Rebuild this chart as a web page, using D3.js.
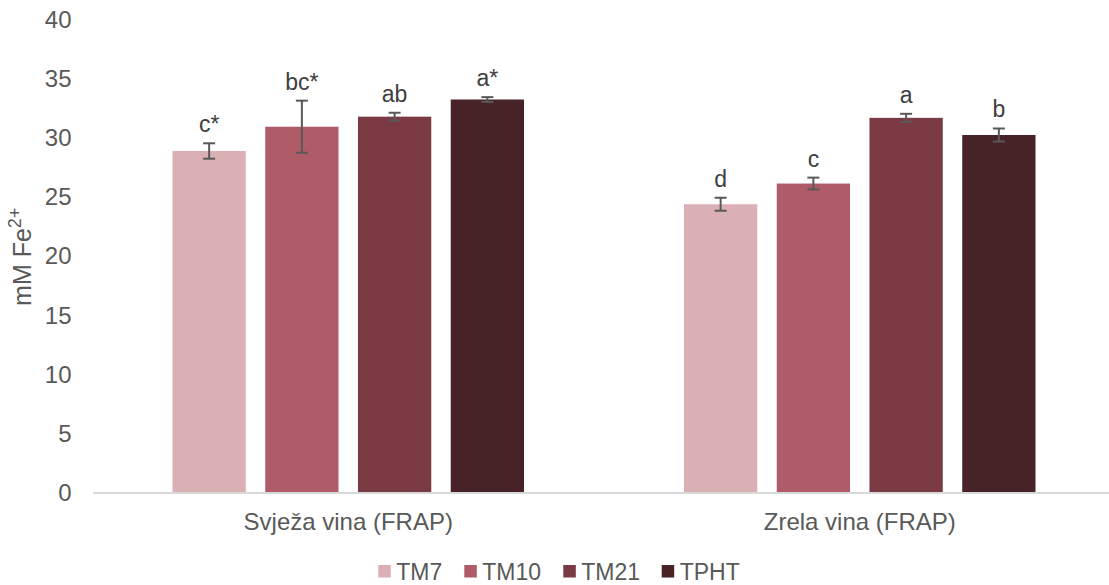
<!DOCTYPE html>
<html><head><meta charset="utf-8">
<script src="https://cdn.jsdelivr.net/npm/d3@7"></script>
<style>body{margin:0;background:#fff}svg{display:block;font-family:Arial,"Liberation Sans",sans-serif}</style>
</head><body><svg id="c" width="1109" height="585"></svg>
<script>
const categories = ["Svježa vina (FRAP)", "Zrela vina (FRAP)"];
const seriesNames = ["TM7", "TM10", "TM21", "TPHT"];
const colors = ["#dab0b5", "#b05c68", "#7a3a43", "#472227"];
const tm7 = [28.85, 24.35];
const tm7Err = [0.65, 0.55];
const tm7Labels = ["c*", "d"];
const tm10 = [30.9, 26.1];
const tm10Err = [2.2, 0.5];
const tm10Labels = ["bc*", "c"];
const tm21 = [31.75, 31.65];
const tm21Err = [0.33, 0.34];
const tm21Labels = ["ab", "a"];
const tpht = [33.2, 30.2];
const tphtErr = [0.2, 0.55];
const tphtLabels = ["a*", "b"];
const yTicks = [0, 5, 10, 15, 20, 25, 30, 35, 40];

const values = [tm7, tm10, tm21, tpht];
const errs = [tm7Err, tm10Err, tm21Err, tphtErr];
const labels = [tm7Labels, tm10Labels, tm21Labels, tphtLabels];

const svg = d3.select("#c");
const plotLeft = 92.5, catW = 511.5, plotTop = 19, plotBottom = 492.5;
const textColor = "#595959";
const fs = 23;

const x0 = d3.scaleBand().domain(categories).range([plotLeft, plotLeft + 2 * catW]).padding(0);
const x1 = d3.scaleBand().domain(seriesNames).range([80, catW - 80]).paddingInner(0.21).paddingOuter(0);
const y = d3.scaleLinear().domain([0, 40]).range([plotBottom, plotTop]);

// y tick labels
svg.append("g").selectAll("text").data(yTicks).join("text")
  .attr("x", 71.5).attr("y", d => y(d)).attr("dy", "0.36em")
  .attr("text-anchor", "end").attr("fill", textColor)
  .attr("font-size", 24).text(d => d);

// y title
const yt = svg.append("text")
  .attr("transform", "translate(31," + ((plotTop + plotBottom) / 2 + 1) + ") rotate(-90)")
  .attr("text-anchor", "middle").attr("fill", textColor).attr("font-size", 25);
yt.append("tspan").text("mM Fe");
yt.append("tspan").attr("font-size", 18).attr("dy", "-0.55em").text("2+");

// bars
const data = [];
seriesNames.forEach((s, si) => categories.forEach((c, ci) => {
  data.push({s, c, si, v: values[si][ci], e: errs[si][ci], l: labels[si][ci]});
}));

const g = svg.append("g");
g.selectAll("rect").data(data).join("rect")
  .attr("x", d => x0(d.c) + x1(d.s))
  .attr("y", d => y(d.v))
  .attr("width", x1.bandwidth())
  .attr("height", d => y(0) - y(d.v))
  .attr("fill", d => colors[d.si]);

// x axis
const xAxis = svg.append("g").attr("transform", "translate(0," + plotBottom + ")")
  .call(d3.axisBottom(x0).tickSize(0).tickPadding(20));
xAxis.select(".domain").attr("stroke", "#d9d9d9").attr("stroke-width", 2);
xAxis.selectAll("text").attr("font-size", 24).attr("fill", textColor)
  .attr("font-family", "Arial, 'Liberation Sans', sans-serif");

// error bars
const eg = svg.append("g").attr("stroke", "#595959").attr("stroke-width", 2).attr("fill", "none");
data.forEach(d => {
  const cx = x0(d.c) + x1(d.s) + x1.bandwidth() / 2;
  eg.append("line").attr("x1", cx).attr("x2", cx).attr("y1", y(d.v + d.e)).attr("y2", y(d.v - d.e));
  eg.append("line").attr("x1", cx - 6).attr("x2", cx + 6).attr("y1", y(d.v + d.e)).attr("y2", y(d.v + d.e));
  eg.append("line").attr("x1", cx - 6).attr("x2", cx + 6).attr("y1", y(d.v - d.e)).attr("y2", y(d.v - d.e));
});

// data labels
svg.append("g").selectAll("text").data(data).join("text")
  .attr("x", d => x0(d.c) + x1(d.s) + x1.bandwidth() / 2)
  .attr("y", d => y(d.v + d.e) - 11)
  .attr("text-anchor", "middle").attr("fill", "#404040").attr("font-size", fs)
  .text(d => d.l);

// legend
const legX = [378.3, 464.3, 563.3, 661.7];
const lg = svg.append("g");
seriesNames.forEach((s, i) => {
  lg.append("rect").attr("x", legX[i]).attr("y", 565).attr("width", 12.5).attr("height", 12.5).attr("fill", colors[i]);
  lg.append("text").attr("x", legX[i] + 18).attr("y", 580).attr("fill", textColor).attr("font-size", fs).text(s);
});
</script></body></html>
